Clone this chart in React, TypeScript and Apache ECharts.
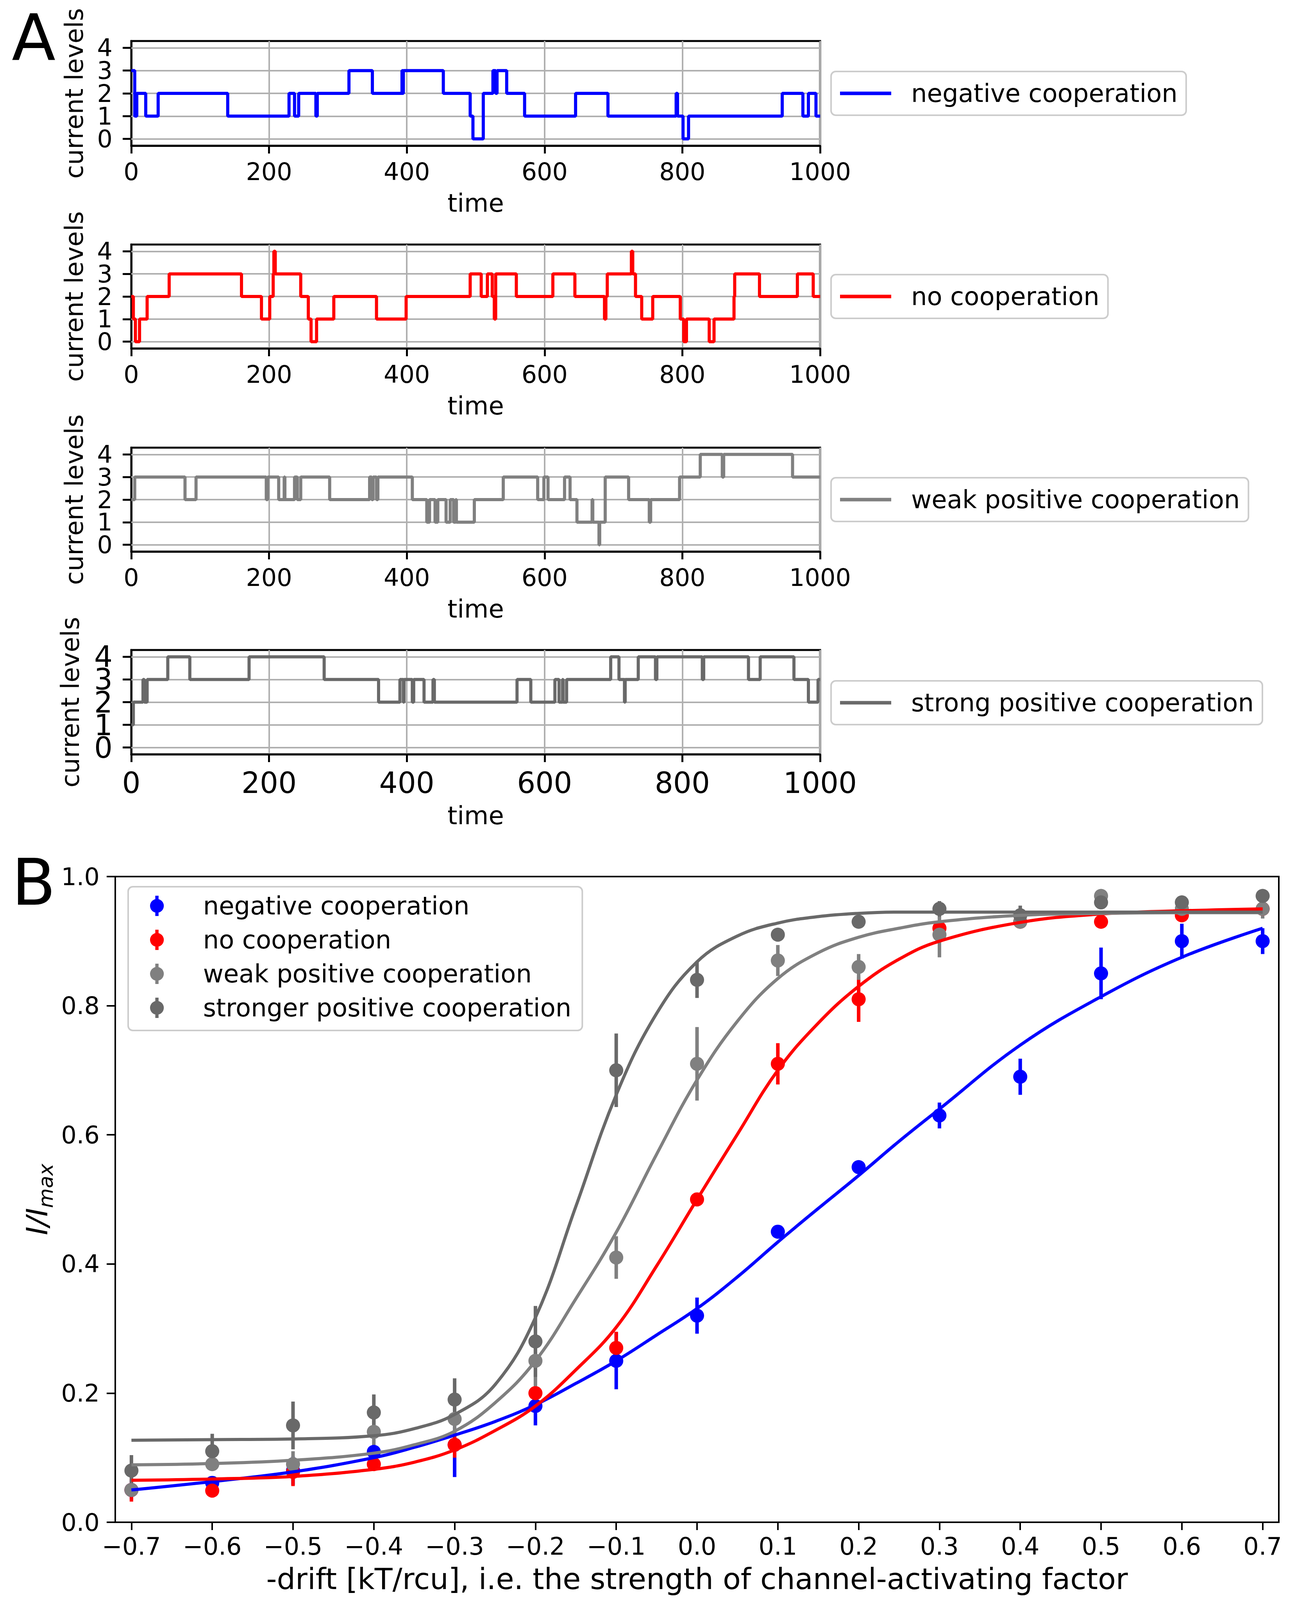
import React, { useEffect, useRef } from 'react'
import * as echarts from 'echarts'

const FONT = 'DejaVu Sans'

// ---- panel A: simulated current traces, [time, level] at every change ----
const negativeSteps = [
  [0, 3], [5, 1], [8, 2], [21, 1], [39, 2], [140, 1], [229, 2], [237, 1], [243, 2], [268, 1], [270, 2],
  [316, 3], [350, 2], [393, 3], [394, 2], [395, 3], [453, 2], [492, 1], [496, 0], [511, 2], [525, 3],
  [529, 2], [531, 3], [545, 2], [571, 1], [645, 2], [692, 1], [791, 2], [793, 1], [801, 0], [809, 1],
  [945, 2], [975, 1], [983, 2], [994, 1], [1000, 1]
]
const noCoopSteps = [
  [0, 2], [3, 1], [6, 0], [12, 1], [23, 2], [55, 3], [160, 2], [189, 1], [201, 2], [206, 3], [207, 4],
  [209, 3], [246, 2], [257, 1], [261, 0], [269, 1], [294, 2], [356, 1], [399, 2], [492, 3], [508, 2],
  [517, 3], [524, 2], [527, 1], [529, 3], [559, 2], [612, 3], [644, 2], [687, 1], [689, 2], [691, 3],
  [726, 4], [728, 3], [732, 2], [741, 1], [757, 2], [797, 1], [802, 0], [806, 1], [839, 0], [846, 1],
  [875, 2], [876, 3], [912, 2], [967, 3], [990, 2], [1000, 2]
]
const weakSteps = [
  [0, 2], [5, 3], [78, 2], [94, 3], [196, 2], [198, 3], [214, 2], [222, 3], [223, 2], [237, 3], [241, 2],
  [246, 3], [288, 2], [346, 3], [349, 2], [351, 3], [356, 2], [358, 3], [408, 2], [429, 1], [433, 2],
  [441, 1], [445, 2], [457, 1], [463, 2], [468, 1], [471, 2], [472, 1], [498, 2], [540, 3], [590, 2],
  [599, 3], [605, 2], [629, 3], [637, 2], [647, 1], [669, 2], [670, 1], [679, 0], [680, 1], [688, 3],
  [722, 2], [752, 1], [754, 2], [796, 3], [826, 4], [858, 3], [860, 4], [960, 3], [1000, 3]
]
const strongSteps = [
  [0, 1], [3, 2], [17, 3], [19, 2], [23, 3], [53, 4], [85, 3], [171, 4], [280, 3], [359, 2], [390, 3],
  [395, 2], [396, 3], [408, 2], [410, 3], [425, 2], [438, 3], [440, 2], [560, 3], [580, 2], [615, 3],
  [621, 2], [626, 3], [627, 2], [632, 3], [696, 4], [708, 3], [716, 2], [717, 3], [736, 4], [761, 3],
  [763, 4], [829, 3], [831, 4], [896, 3], [913, 4], [962, 3], [983, 2], [997, 3], [1000, 3]
]
const traceNames = ['negative cooperation', 'no cooperation', 'weak positive cooperation', 'strong positive cooperation']
const levelTicks = [0, 1, 2, 3, 4]

// ---- panel B: mean current vs drift, with error bars and fitted curves ----
const drift = [-0.7, -0.6, -0.5, -0.4, -0.3, -0.2, -0.1, 0, 0.1, 0.2, 0.3, 0.4, 0.5, 0.6, 0.7]
const negMean = [0.05, 0.061, 0.08, 0.109, 0.12, 0.18, 0.25, 0.32, 0.45, 0.55, 0.63, 0.69, 0.85, 0.9, 0.9]
const negErr = [0.015, 0.01, 0.022, 0.01, 0.05, 0.03, 0.044, 0.028, 0.008, 0.008, 0.02, 0.028, 0.04, 0.027, 0.02]
const noMean = [0.05, 0.049, 0.078, 0.09, 0.12, 0.2, 0.27, 0.5, 0.71, 0.81, 0.92, 0.93, 0.93, 0.94, 0.95]
const noErr = [0.018, 0.008, 0.022, 0.008, 0.02, 0.01, 0.025, 0.01, 0.032, 0.035, 0.01, 0.01, 0.01, 0.01, 0.01]
const weakMean = [0.05, 0.09, 0.09, 0.14, 0.16, 0.25, 0.41, 0.71, 0.87, 0.86, 0.91, 0.93, 0.97, 0.95, 0.95]
const weakErr = [0.01, 0.01, 0.02, 0.025, 0.025, 0.042, 0.033, 0.057, 0.024, 0.02, 0.035, 0.01, 0.01, 0.01, 0.015]
const strongMean = [0.08, 0.11, 0.15, 0.17, 0.19, 0.28, 0.7, 0.84, 0.91, 0.93, 0.95, 0.94, 0.96, 0.96, 0.97]
const strongErr = [0.024, 0.027, 0.037, 0.028, 0.033, 0.055, 0.057, 0.028, 0.01, 0.008, 0.012, 0.015, 0.01, 0.01, 0.008]

const fitX = [-0.7, -0.6, -0.5, -0.4, -0.35, -0.3, -0.25, -0.2, -0.15, -0.1, -0.05, 0, 0.05, 0.1, 0.15, 0.2, 0.25, 0.3, 0.4, 0.5, 0.6, 0.7]
const negFit = [0.05, 0.063, 0.078, 0.1, 0.116, 0.135, 0.156, 0.182, 0.215, 0.25, 0.29, 0.331, 0.38, 0.434, 0.486, 0.537, 0.59, 0.64, 0.739, 0.814, 0.875, 0.92]
const noFit = [0.065, 0.067, 0.071, 0.082, 0.093, 0.112, 0.142, 0.18, 0.236, 0.302, 0.397, 0.5, 0.601, 0.7, 0.773, 0.83, 0.872, 0.9, 0.929, 0.942, 0.947, 0.95]
const weakFit = [0.089, 0.091, 0.096, 0.107, 0.12, 0.141, 0.185, 0.25, 0.346, 0.449, 0.57, 0.685, 0.776, 0.842, 0.882, 0.906, 0.92, 0.93, 0.94, 0.943, 0.944, 0.944]
const strongFit = [0.127, 0.128, 0.129, 0.134, 0.145, 0.167, 0.213, 0.317, 0.489, 0.662, 0.788, 0.868, 0.908, 0.928, 0.938, 0.943, 0.945, 0.945, 0.945, 0.945, 0.945, 0.945]
const pointNames = ['negative cooperation', 'no cooperation', 'weak positive cooperation', 'stronger positive cooperation']

const COLORS = ['#0000ff', '#ff0000', '#808080', '#696969']
const ERRBAR_ICON = 'path://M14.5,0H23.5V56H14.5Z M0,28A19,19 0 1 1 38,28A19,19 0 1 1 0,28Z'

// the layout was measured on a 4400px tall page; the visible page may be shorter
const BASE_H = 4400

const App: React.FC = () => {
  const chartRef = useRef<HTMLDivElement>(null)
  const pageH = Math.min(BASE_H, window.innerHeight || BASE_H)

  useEffect(() => {
    if (!chartRef.current) return
    const chart = echarts.init(chartRef.current, null, { renderer: 'svg' })

    const ky = pageH / BASE_H
    const Y = (v: number) => Math.round(v * ky)

    const steps = [negativeSteps, noCoopSteps, weakSteps, strongSteps]
    const aTop = [113, 672, 1231, 1788]
    const aHeight = [288, 286, 286, 287]
    const legendTop = [197, 755, 1314, 1872]
    const black = '#000'

    const grids: any[] = aTop.map((t, i) => ({
      left: 336, top: Y(t), width: 1763, height: Y(aHeight[i]),
      show: true, borderColor: black, borderWidth: 5
    }))
    grids.push({ left: 295, top: Y(2411), width: 2978, height: Y(1776), show: true, borderColor: black, borderWidth: 4 })

    const xAxes: any[] = aTop.map((_, i) => ({
      gridIndex: i, type: 'value', min: 0, max: 1000, interval: 200,
      name: 'time', nameLocation: 'middle', nameGap: Y(i === 3 ? 134 : 124),
      nameTextStyle: { fontSize: 64, color: black, fontFamily: FONT },
      axisLine: { show: true, onZero: false, lineStyle: { color: black, width: 5 } },
      axisTick: { show: true, length: Y(22), lineStyle: { color: black, width: 5 } },
      axisLabel: {
        fontSize: i === 3 ? 74 : 62, color: black, fontFamily: FONT, margin: Y(i === 3 ? 39 : 38),
        formatter: (v: number) => String(v)
      },
      splitLine: { show: true, lineStyle: { color: '#b0b0b0', width: 4 } }
    }))
    // y tick labels of panel A are drawn by the level markLines (the axis would hide crowded ones)
    const yAxes: any[] = aTop.map((_, i) => ({
      gridIndex: i, type: 'value', min: -0.3, max: 4.3,
      name: 'current levels', nameLocation: 'middle', nameGap: i === 3 ? 124 : 114,
      nameTextStyle: { fontSize: 64, color: black, fontFamily: FONT },
      axisLine: { show: true, onZero: false, lineStyle: { color: black, width: 5 } },
      axisTick: { show: true, length: 22, customValues: levelTicks, lineStyle: { color: black, width: 5 } },
      axisLabel: { show: false },
      splitLine: { show: false }
    }))

    xAxes.push({
      gridIndex: 4, type: 'value', min: -0.72, max: 0.72,
      name: '-drift [kT/rcu], i.e. the strength of channel-activating factor',
      nameLocation: 'middle', nameGap: Y(115),
      nameTextStyle: { fontSize: 75, color: black, fontFamily: FONT },
      axisLine: { show: true, onZero: false, lineStyle: { color: black, width: 4 } },
      axisTick: { show: true, length: Y(22), customValues: drift, lineStyle: { color: black, width: 4 } },
      axisLabel: {
        customValues: drift, interval: 0, hideOverlap: false, fontSize: 62, color: black, fontFamily: FONT, margin: Y(32),
        formatter: (v: number) => (v < -1e-9 ? '\u2212' + Math.abs(v).toFixed(1) : Math.abs(v).toFixed(1))
      },
      splitLine: { show: false }
    })
    yAxes.push({
      gridIndex: 4, type: 'value', min: 0, max: 1, interval: 0.2,
      name: '{i|I/I}{s|max}', nameLocation: 'middle', nameGap: 152,
      nameTextStyle: {
        color: black, fontFamily: FONT,
        rich: {
          i: { fontSize: 75, fontStyle: 'italic', fontFamily: FONT, color: black, lineHeight: 96, verticalAlign: 'middle' },
          s: { fontSize: 52, fontStyle: 'italic', fontFamily: FONT, color: black, lineHeight: 52, verticalAlign: 'bottom' }
        }
      },
      axisLine: { show: true, onZero: false, lineStyle: { color: black, width: 4 } },
      axisTick: { show: true, length: 22, lineStyle: { color: black, width: 4 } },
      axisLabel: { fontSize: 62, color: black, fontFamily: FONT, margin: 40, formatter: (v: number) => v.toFixed(1) },
      splitLine: { show: false }
    })

    const series: any[] = steps.map((d, i) => ({
      name: traceNames[i], type: 'line', xAxisIndex: i, yAxisIndex: i,
      step: 'end', showSymbol: false, data: d,
      lineStyle: { color: COLORS[i], width: 8 }, itemStyle: { color: COLORS[i] },
      emphasis: { disabled: true },
      markLine: {
        silent: true, z: 1, symbol: ['none', 'none'],
        label: {
          show: true, position: 'start', distance: 48,
          fontSize: i === 3 ? 74 : 62, lineHeight: i === 3 ? 54 : 50, color: black, fontFamily: FONT,
          formatter: (p: any) => String(p.value)
        },
        lineStyle: { color: '#b0b0b0', width: 4, type: 'solid' },
        emphasis: { disabled: true },
        data: levelTicks.map((v) => ({ yAxis: v }))
      }
    }))

    const fits = [negFit, noFit, weakFit, strongFit]
    fits.forEach((f, i) => {
      series.push({
        name: 'fit ' + i, type: 'line', xAxisIndex: 4, yAxisIndex: 4,
        smooth: 0.4, showSymbol: false, data: fitX.map((x, k) => [x, f[k]]),
        lineStyle: { color: COLORS[i], width: 8 }, itemStyle: { color: COLORS[i] },
        emphasis: { disabled: true }
      })
    })

    const means = [negMean, noMean, weakMean, strongMean]
    const errs = [negErr, noErr, weakErr, strongErr]
    means.forEach((m, i) => {
      const color = COLORS[i]
      series.push({
        name: 'bar ' + i, type: 'custom', xAxisIndex: 4, yAxisIndex: 4,
        data: drift.map((x, k) => [x, m[k] - errs[i][k], m[k] + errs[i][k]]),
        encode: { x: 0, y: [1, 2] },
        renderItem: (_p: any, api: any) => {
          const a = api.coord([api.value(0), api.value(1)])
          const b = api.coord([api.value(0), api.value(2)])
          return {
            type: 'line',
            shape: { x1: a[0], y1: a[1], x2: b[0], y2: b[1] },
            style: { stroke: color, lineWidth: 9 }
          }
        }
      })
      series.push({
        name: 'B|' + pointNames[i], type: 'scatter', xAxisIndex: 4, yAxisIndex: 4,
        symbolSize: 36, data: drift.map((x, k) => [x, m[k]]),
        itemStyle: { color, opacity: 1 }, emphasis: { disabled: true }
      })
    })

    const legends: any[] = traceNames.map((n, i) => ({
      data: [n], orient: 'vertical', left: 2127, top: Y(legendTop[i]),
      padding: [Y(26), 22, Y(26), 23], icon: 'rect', itemWidth: 131, itemHeight: 9, itemGap: 0,
      backgroundColor: 'rgba(255,255,255,0.8)', borderColor: '#cccccc', borderWidth: 4, borderRadius: 12,
      itemStyle: { borderWidth: 0 }, selectedMode: false,
      textStyle: { fontSize: 64, color: black, fontFamily: FONT, padding: [0, 0, 0, 46] }
    }))
    legends.push({
      data: pointNames.map((n) => 'B|' + n), orient: 'vertical', left: 328, top: Y(2439),
      padding: [Y(18), 28, Y(28), 56], icon: ERRBAR_ICON, itemWidth: 60, itemHeight: 52, itemGap: Y(93) - 64,
      formatter: (name: string) => name.split('|')[1],
      backgroundColor: 'rgba(255,255,255,0.8)', borderColor: '#cccccc', borderWidth: 4, borderRadius: 12,
      itemStyle: { borderWidth: 0 }, selectedMode: false,
      textStyle: { fontSize: 64, color: black, fontFamily: FONT, padding: [0, 0, 0, 83] }
    })

    chart.setOption({
      animation: false,
      backgroundColor: '#fff',
      textStyle: { fontFamily: FONT },
      grid: grids,
      xAxis: xAxes,
      yAxis: yAxes,
      legend: legends,
      series,
      graphic: [
        { type: 'text', x: 30, y: Y(104), style: { text: 'A', fontSize: 164, fontFamily: FONT, fill: black, align: 'left', verticalAlign: 'middle' } },
        { type: 'text', x: 30, y: Y(2427), style: { text: 'B', fontSize: 164, fontFamily: FONT, fill: black, align: 'left', verticalAlign: 'middle' } }
      ]
    })

    return () => {
      chart.dispose()
    }
  }, [pageH])

  return (
    <div
      ref={chartRef}
      style={{ position: 'absolute', left: 0, top: 0, width: '3317px', height: pageH + 'px', background: '#fff' }}
    />
  )
}

export default App
